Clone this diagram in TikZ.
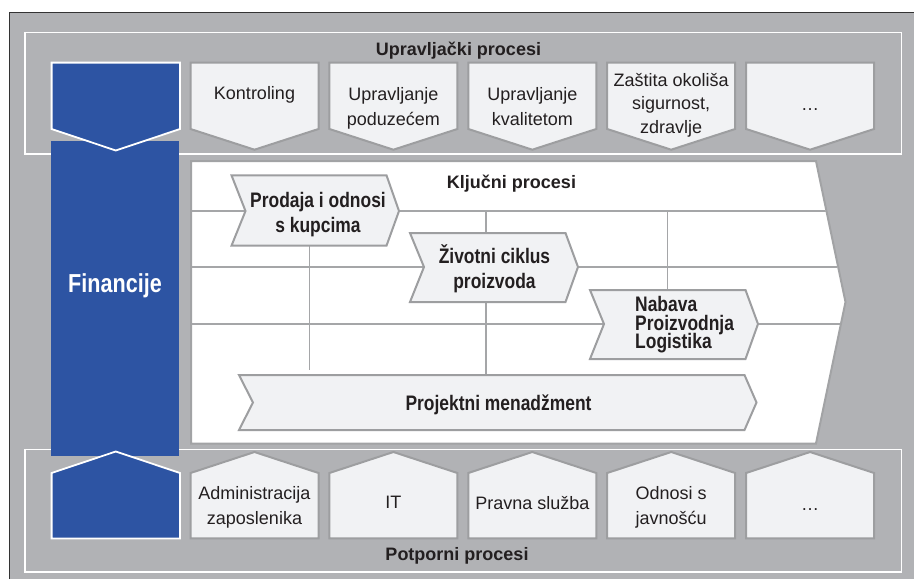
\documentclass[tikz,border=0pt]{standalone}
\usepackage{fontspec}
\setmainfont{Liberation Sans}
\newfontfamily\condfont{Liberation Sans}[FakeStretch=0.83]
\newcommand\mytightlines{\lineskiplimit=-20pt\relax}
\definecolor{bggray}{HTML}{B1B2B5}
\definecolor{chevfill}{HTML}{F1F2F4}
\definecolor{chevline}{HTML}{9D9EA0}
\definecolor{finblue}{HTML}{2D54A3}
\definecolor{keyline}{HTML}{A2A3A5}
\definecolor{gridline}{HTML}{A5A6A8}
\definecolor{txt}{HTML}{231F20}
\definecolor{frame}{HTML}{333333}
\tikzset{
  chev/.style={fill=chevfill, draw=chevline, line width=2pt, line join=miter},
  bluechev/.style={fill=finblue, draw=white, line width=1.8pt, line join=miter},
  reg/.style={inner sep=0pt, align=center, text=txt, font=\fontsize{18}{25}\selectfont},
  regz/.style={inner sep=0pt, align=center, text=txt, font=\fontsize{18}{23.5}\selectfont},
  cbold/.style={inner sep=0pt, align=center, text=txt, font=\condfont\bfseries\fontsize{21}{25}\selectfont},
  cboldn/.style={inner sep=0pt, align=left, text=txt, font=\condfont\bfseries\fontsize{21}{18.5}\selectfont\mytightlines},
  ttl/.style={inner sep=0pt, align=center, text=txt, font=\bfseries\fontsize{18}{22}\selectfont},
  fin/.style={inner sep=0pt, align=center, text=white, font=\condfont\bfseries\fontsize{26}{30}\selectfont},
}
\begin{document}
\begin{tikzpicture}[x=1pt,y=-1pt]
\useasboundingbox (0,0) rectangle (914,579);
% background frame
\fill[bggray] (9,12) rectangle (914,579);
\draw[frame, line width=1.3pt] (9.6,579) -- (9.6,12.6) -- (914,12.6);
% inner boxes
\draw[white, line width=1.8pt] (25,32.5) rectangle (901.5,154);
\draw[white, line width=1.8pt] (25,449.5) rectangle (901.5,572);
% key process arrow
\draw[fill=white, draw=keyline, line width=2pt, line join=miter]
  (191,161) -- (816,161) -- (845.5,302) -- (816,443.5) -- (191,443.5) -- cycle;
\begin{scope}
  \clip (192,162) -- (815.5,162) -- (844.5,302) -- (815.5,442.5) -- (192,442.5) -- cycle;
  \draw[gridline, line width=1.2pt] (191,211) -- (900,211);
  \draw[gridline, line width=1.2pt] (191,267) -- (900,267);
  \draw[gridline, line width=1.2pt] (191,324) -- (900,324);
\end{scope}
\draw[gridline, line width=1.2pt] (309.3,211) -- (309.3,370);
\draw[gridline, line width=1.2pt] (486,211) -- (486,374);
\draw[gridline, line width=1.2pt] (667.5,211) -- (667.5,289);
% key chevrons
\draw[chev] (231.5,175.3) -- (386.5,175.3) -- (399,211) -- (386.5,245.7) -- (231.5,245.7) -- (245.5,211) -- cycle;
\draw[chev] (410,233) -- (565.5,233) -- (578,267) -- (565.5,302) -- (410,302) -- (424,267) -- cycle;
\draw[chev] (590,290) -- (745.5,290) -- (758,324) -- (745.5,359) -- (590,359) -- (604,324) -- cycle;
\draw[chev] (239,375) -- (744.5,375) -- (756.5,402.5) -- (744.5,430) -- (239,430) -- (253,402.5) -- cycle;
% top and bottom chevrons
\foreach \i in {1,...,4}{
  \pgfmathsetmacro{\xa}{189.5+138.9*\i+1}
  \pgfmathsetmacro{\xb}{189.5+138.9*\i+129}
  \pgfmathsetmacro{\xm}{189.5+138.9*\i+65}
  \draw[chev] (\xa,62.7) -- (\xb,62.7) -- (\xb,129) -- (\xm,149.7) -- (\xa,129) -- cycle;
  \draw[chev] (\xa,538.3) -- (\xb,538.3) -- (\xb,473) -- (\xm,452) -- (\xa,473) -- cycle;
}
\draw[chev] (190.5,62.7) -- (318.5,62.7) -- (318.5,129) -- (254.5,149.7) -- (190.5,129) -- cycle;
\draw[chev] (190.5,538.3) -- (318.5,538.3) -- (318.5,473) -- (254.5,452) -- (190.5,473) -- cycle;
% blue finance bar
\fill[finblue] (50.7,141) rectangle (179,456);
\draw[bluechev] (51.6,62.6) -- (180,62.6) -- (180,129) -- (115.8,150.5) -- (51.6,129) -- cycle;
\draw[bluechev] (51.6,538.4) -- (180,538.4) -- (180,473) -- (115.8,451.5) -- (51.6,473) -- cycle;
% texts
\node[ttl] (tup) at (458.5,50.6) {Upravljački procesi};
\node[ttl] (tkey) at (511.5,183.6) {Ključni procesi};
\node[ttl] (tsup) at (457,555.6) {Potporni procesi};
\node[fin] (fin) at (115,286) {Financije};
\node[reg] (m1) at (254.5,94) {\strut Kontroling};
\node[reg] (m2) at (393.4,107.5) {\strut Upravljanje\\\strut poduzećem};
\node[reg] (m3) at (532.3,107.5) {\strut Upravljanje\\\strut kvalitetom};
\node[regz] (m4) at (671.2,104.8) {\strut Zaštita okoliša\\\strut sigurnost,\\\strut zdravlje};
\node[reg] (m5) at (810.1,105) {\strut\dots};
\node[reg] (s1) at (254.5,507) {\strut Administracija\\\strut zaposlenika};
\node[reg] (s2) at (393.4,503) {\strut IT};
\node[reg] (s3) at (532.3,504) {\strut Pravna služba};
\node[reg] (s4) at (671.2,507) {\strut Odnosi s\\\strut javnošću};
\node[reg] (s5) at (810.1,505) {\strut\dots};
\node[cbold] (k1) at (318,214.5) {\strut Prodaja i odnosi\\\strut s kupcima};
\node[cbold] (k2) at (494.5,270) {\strut Životni ciklus\\\strut proizvoda};
\node[cboldn, anchor=west] (k3) at (635,325) {Nabava\\Proizvodnja\\Logistika};
\node[cbold] (k4) at (498.5,405) {\strut Projektni menadžment};
\end{tikzpicture}
\end{document}
